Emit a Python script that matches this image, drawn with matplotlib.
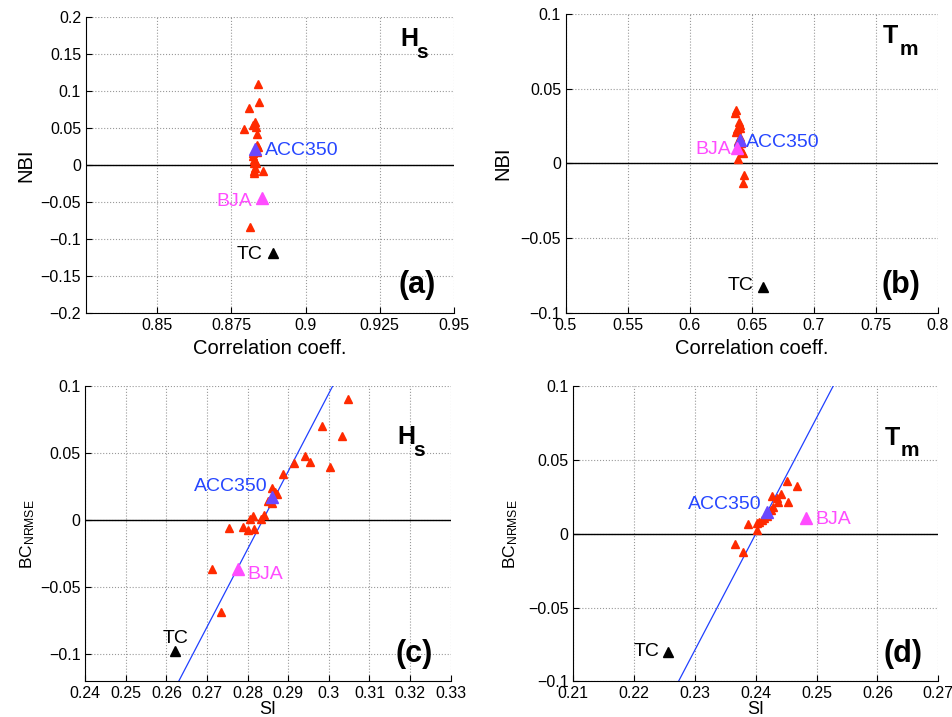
import numpy as np
from matplotlib import pyplot as plt
from matplotlib.ticker import FuncFormatter

plt.rcParams['font.family'] = ['Liberation Sans', 'DejaVu Sans']
plt.rcParams['mathtext.fontset'] = 'custom'
plt.rcParams['mathtext.rm'] = 'Liberation Sans'
plt.rcParams['mathtext.it'] = 'Liberation Sans:italic'
plt.rcParams['mathtext.bf'] = 'Liberation Sans:bold'

# (a) Hs: correlation vs NBI
a_red_x = [0.8840, 0.8842, 0.8808, 0.8791, 0.8822, 0.8831, 0.8834, 0.8835, 0.8836, 0.8839,
           0.8822, 0.8825, 0.8834, 0.8827, 0.8855, 0.8825, 0.8812, 0.8830, 0.8836, 0.8824,
           0.8826, 0.8830]
a_red_y = [0.109, 0.0858, 0.0767, 0.0483, 0.0542, 0.0587, 0.0519, 0.0415, 0.0271, 0.0239,
           0.0158, 0.0023, 0.0023, -0.0077, -0.0077, -0.0104, -0.084, 0.005, 0.018, 0.012,
           0.0068, -0.004]
a_acc = (0.8828, 0.0217)
a_bja = (0.8853, -0.0450)
a_tc = (0.8890, -0.1187)

# (b) Tm: correlation vs NBI
b_red_x = [0.6370, 0.6362, 0.6399, 0.6405, 0.6383, 0.6372, 0.6405, 0.6418, 0.6426, 0.6391,
           0.6437, 0.6426, 0.6399, 0.6413, 0.6390, 0.6402]
b_red_y = [0.0358, 0.0340, 0.0279, 0.0257, 0.0228, 0.0212, 0.0179, 0.0078, 0.0067, 0.0027,
           -0.0078, -0.0134, 0.0112, 0.0134, 0.0150, 0.0240]
b_acc = (0.6405, 0.0156)
b_bja = (0.6383, 0.0107)
b_tc = (0.6593, -0.0827)

# (c) Hs: SI vs BC_NRMSE
c_red_x = [0.3048, 0.2982, 0.3032, 0.2940, 0.2954, 0.3003, 0.2914, 0.2886, 0.2861, 0.2867,
           0.2871, 0.2851, 0.2859, 0.2841, 0.2834, 0.2812, 0.2806, 0.2753, 0.2789, 0.2801,
           0.2815, 0.2712, 0.2735]
c_red_y = [0.0902, 0.0706, 0.0631, 0.0484, 0.0437, 0.0400, 0.0430, 0.0345, 0.0239, 0.0214,
           0.0200, 0.0147, 0.0127, 0.0042, 0.0007, 0.0032, 0.0012, -0.0060, -0.0047, -0.0072,
           -0.0062, -0.0365, -0.0683]
c_acc = (0.2859, 0.0176)
c_bja = (0.2775, -0.0365)
c_tc = (0.2622, -0.0971)
c_line_x = [0.2630, 0.3009]
c_line_y = [-0.12, 0.10]

# (d) Tm: SI vs BC_NRMSE
d_red_x = [0.2452, 0.2467, 0.2442, 0.2426, 0.2435, 0.2436, 0.2453, 0.2429, 0.2425, 0.2411,
           0.2406, 0.2402, 0.2388, 0.2402, 0.2366, 0.2379, 0.2418, 0.2414]
d_red_y = [0.0357, 0.0325, 0.0273, 0.0255, 0.0240, 0.0217, 0.0217, 0.0183, 0.0160, 0.0093,
           0.0081, 0.0075, 0.0066, 0.0025, -0.0072, -0.0122, 0.0120, 0.0105]
d_acc = (0.2419, 0.0149)
d_bja = (0.2482, 0.0104)
d_tc = (0.2255, -0.0800)
d_line_x = [0.2273, 0.2527]
d_line_y = [-0.10, 0.10]

# ticks
a_xticks = [0.85, 0.875, 0.9, 0.925, 0.95]
a_yticks = [-0.2, -0.15, -0.1, -0.05, 0, 0.05, 0.1, 0.15, 0.2]
b_xticks = [0.5, 0.55, 0.6, 0.65, 0.7, 0.75, 0.8]
c_xticks = [0.24, 0.25, 0.26, 0.27, 0.28, 0.29, 0.3, 0.31, 0.32, 0.33]
d_xticks = [0.21, 0.22, 0.23, 0.24, 0.25, 0.26, 0.27]
bcd_yticks = [-0.1, -0.05, 0, 0.05, 0.1]

red = '#ff2a00'
acc_mk = '#6a48ff'
acc_txt = '#2646ff'
bja_col = '#ff4cff'


def fmt(v, pos):
    s = '%g' % round(v, 4)
    if s == '-0':
        s = '0'
    return s.replace('-', '\u2212')


def setup(ax, xlim, ylim, xticks, yticks):
    ax.set_xlim(xlim)
    ax.set_ylim(ylim)
    ax.set_xticks(xticks)
    ax.set_yticks(yticks)
    ax.xaxis.set_major_formatter(FuncFormatter(fmt))
    ax.yaxis.set_major_formatter(FuncFormatter(fmt))
    ax.grid(True, linestyle=':', color='#999999', linewidth=0.8)
    ax.set_axisbelow(True)
    ax.spines['top'].set_visible(False)
    ax.spines['right'].set_visible(False)
    ax.tick_params(direction='in', labelsize=11.5, length=4)
    ax.axhline(0, color='black', linewidth=1, zorder=1)


def marks(ax, rx, ry, acc, bja, tc, acc_off, acc_ha, bja_off, bja_ha, tc_off, tc_ha, tc_va='center'):
    ax.plot(rx, ry, '^', color=red, ms=5.5, mec=red, zorder=3)
    ax.plot(*acc, '^', color=acc_mk, ms=8, mec=acc_mk, zorder=4)
    ax.plot(*bja, '^', color=bja_col, ms=8, mec=bja_col, zorder=4)
    ax.plot(*tc, '^', color='black', ms=7, zorder=4)
    ax.annotate('ACC350', acc, xytext=acc_off, textcoords='offset pixels',
                ha=acc_ha, va='center', color=acc_txt, fontsize=14)
    ax.annotate('BJA', bja, xytext=bja_off, textcoords='offset pixels',
                ha=bja_ha, va='center', color=bja_col, fontsize=14)
    ax.annotate('TC', tc, xytext=tc_off, textcoords='offset pixels',
                ha=tc_ha, va=tc_va, color='black', fontsize=14)


def tag(ax, big, small, yb, ys, letter, ylet):
    ax.text(0.853, yb, big, transform=ax.transAxes, fontsize=18, fontweight='bold', va='baseline')
    ax.text(0.897, ys, small, transform=ax.transAxes, fontsize=15, fontweight='bold', va='baseline')
    ax.text(0.85, ylet, letter, transform=ax.transAxes, fontsize=22, fontweight='bold', va='baseline')


fig = plt.figure(figsize=(9.52, 7.17), dpi=100)

ax1 = fig.add_axes([0.0903, 0.5639, 0.3866, 0.412])
setup(ax1, (0.826, 0.95), (-0.2, 0.2), a_xticks, a_yticks)
marks(ax1, a_red_x, a_red_y, a_acc, a_bja, a_tc,
      (10, -2), 'left', (-10, -3), 'right', (-10, -2), 'right')
ax1.set_xlabel('Correlation coeff.', fontsize=14.5, labelpad=5)
ax1.set_ylabel('NBI', fontsize=14.5, labelpad=4)
tag(ax1, 'H', 's', 0.903, 0.861, '(a)', 0.067)

ax2 = fig.add_axes([0.5945, 0.5639, 0.3904, 0.4162])
setup(ax2, (0.5, 0.8), (-0.1, 0.1), b_xticks, bcd_yticks)
marks(ax2, b_red_x, b_red_y, b_acc, b_bja, b_tc,
      (6, -2), 'left', (-6, -2), 'right', (-10, 1), 'right')
ax2.set_xlabel('Correlation coeff.', fontsize=14.5, labelpad=5)
ax2.set_ylabel('NBI', fontsize=14.5, labelpad=6)
tag(ax2, 'T', 'm', 0.905, 0.864, '(b)', 0.067)

ax3 = fig.add_axes([0.0896, 0.0498, 0.3838, 0.4114])
setup(ax3, (0.24, 0.33), (-0.12, 0.1), c_xticks, bcd_yticks)
ax3.plot(c_line_x, c_line_y, color='#2040ff', linewidth=0.9, zorder=2)
marks(ax3, c_red_x, c_red_y, c_acc, c_bja, c_tc,
      (-4, 10), 'right', (10, -5), 'left', (0, 4), 'center', 'bottom')
ax3.set_xlabel('SI', fontsize=13, labelpad=0)
ax3.set_ylabel(r'BC$_{\mathrm{NRMSE}}$', fontsize=12.5, labelpad=2)
tag(ax3, 'H', 's', 0.805, 0.763, '(c)', 0.065)

ax4 = fig.add_axes([0.6022, 0.0498, 0.3834, 0.4114])
setup(ax4, (0.21, 0.27), (-0.1, 0.1), d_xticks, bcd_yticks)
ax4.plot(d_line_x, d_line_y, color='#2040ff', linewidth=0.9, zorder=2)
marks(ax4, d_red_x, d_red_y, d_acc, d_bja, d_tc,
      (-6, 7), 'right', (10, -1), 'left', (-8, 0), 'right')
ax4.set_xlabel('SI', fontsize=13, labelpad=0)
ax4.set_ylabel(r'BC$_{\mathrm{NRMSE}}$', fontsize=12.5, labelpad=6)
tag(ax4, 'T', 'm', 0.80, 0.763, '(d)', 0.065)

plt.savefig('out.png', dpi=100)
